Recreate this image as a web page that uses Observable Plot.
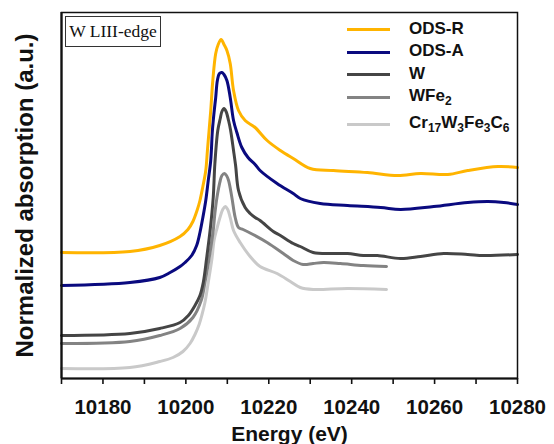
<!DOCTYPE html>
<html>
<head>
<meta charset="utf-8">
<script src="https://cdn.jsdelivr.net/npm/d3@7"></script>
<script src="https://cdn.jsdelivr.net/npm/@observablehq/plot@0.6"></script>
<style>
  html, body { margin: 0; padding: 0; background: #fff; }
  #wrap { position: relative; width: 554px; height: 444px; overflow: hidden; font-family: "Liberation Sans", Arial, sans-serif; }
  .leg { position: absolute; left: 347px; height: 0; }
  .leg .sw { position: absolute; left: 0; width: 43px; height: 3px; top: -1.5px; }
  .leg .tx { position: absolute; left: 62px; top: -11px; font-weight: bold; font-size: 17px; line-height: 20px; white-space: nowrap; color: #111; }
  .leg sub { font-size: 12px; vertical-align: -4px; line-height: 0; }
  #edge { position: absolute; left: 65px; top: 16px; width: 96px; height: 31px; border: 1px solid #333; box-sizing: border-box;
          font-family: "Liberation Serif", "Times New Roman", serif; font-size: 17.5px; line-height: 29px; text-align: center; color: #111; }
</style>
</head>
<body>
<div id="wrap"></div>
<script>
// Series names and colours
const seriesNames = ["Cr17W3Fe3C6", "WFe2", "W", "ODS-A", "ODS-R"];
const seriesColors = ["#c9c9c9", "#838383", "#454545", "#0a0a7f", "#ffb400"];

// Energies (eV) and normalized absorption (a.u.)
const odsR_E = [10170, 10186.5, 10193.7, 10198.6, 10200.5, 10201.7, 10202.7, 10203.4, 10204.1, 10204.8, 10205.2, 10205.6, 10206.0, 10206.5, 10207.2, 10207.8, 10208.5, 10209.2, 10209.9, 10210.7, 10211.5, 10212.7, 10214.3, 10216.7, 10219.6, 10222.8, 10225.9, 10230.0, 10235.6, 10243.8, 10251.1, 10256.6, 10263.2, 10268.0, 10275.3, 10280];
const odsR_A = [1.26, 1.27, 1.33, 1.42, 1.49, 1.57, 1.68, 1.78, 1.92, 2.08, 2.28, 2.48, 2.68, 2.98, 3.25, 3.34, 3.39, 3.34, 3.28, 3.15, 2.88, 2.68, 2.58, 2.51, 2.38, 2.28, 2.20, 2.10, 2.08, 2.06, 2.03, 2.05, 2.04, 2.08, 2.12, 2.11];

const odsA_E = [10170, 10186.5, 10193.7, 10196.2, 10198.6, 10199.8, 10201.4, 10202.6, 10203.4, 10204.1, 10204.8, 10205.4, 10206.0, 10206.4, 10206.8, 10207.2, 10207.6, 10208.1, 10208.7, 10209.2, 10209.9, 10210.7, 10211.5, 10212.3, 10213.5, 10215.0, 10216.7, 10217.9, 10222.0, 10225.9, 10227.6, 10232.4, 10239.0, 10247.0, 10251.8, 10259.8, 10268.0, 10272.9, 10276.7, 10280];
const odsA_A = [0.93, 0.96, 1.01, 1.06, 1.12, 1.16, 1.23, 1.33, 1.46, 1.61, 1.78, 1.98, 2.18, 2.48, 2.66, 2.81, 2.98, 3.05, 3.06, 3.04, 2.98, 2.81, 2.58, 2.46, 2.31, 2.21, 2.14, 2.08, 1.95, 1.85, 1.80, 1.75, 1.73, 1.71, 1.69, 1.72, 1.76, 1.77, 1.76, 1.74];

const w_E = [10170, 10186.5, 10193.7, 10198.6, 10200.6, 10202.2, 10203.4, 10204.2, 10205.0, 10205.9, 10206.6, 10207.0, 10207.7, 10208.3, 10208.7, 10209.2, 10209.7, 10210.3, 10210.8, 10211.5, 10212.0, 10212.7, 10214.3, 10215.5, 10216.7, 10217.9, 10221.1, 10222.8, 10225.9, 10227.6, 10230.7, 10235.6, 10239.0, 10242.8, 10246.2, 10251.8, 10256.6, 10262.2, 10268.0, 10271.9, 10280];
const w_A = [0.43, 0.45, 0.50, 0.56, 0.63, 0.73, 0.83, 0.96, 1.20, 1.50, 1.81, 2.15, 2.48, 2.60, 2.67, 2.70, 2.67, 2.58, 2.48, 2.28, 2.13, 1.88, 1.71, 1.65, 1.61, 1.58, 1.47, 1.43, 1.35, 1.32, 1.26, 1.25, 1.25, 1.23, 1.23, 1.20, 1.22, 1.25, 1.24, 1.23, 1.24];

const wfe2_E = [10170, 10186.5, 10193.7, 10198.6, 10201.7, 10203.7, 10204.6, 10205.6, 10206.6, 10207.0, 10207.5, 10208.3, 10208.7, 10209.3, 10209.8, 10210.3, 10211.1, 10211.9, 10212.7, 10213.8, 10216.2, 10219.6, 10223.5, 10225.9, 10228.3, 10230.7, 10233.2, 10237.3, 10242.8, 10248.4];
const wfe2_A = [0.35, 0.37, 0.43, 0.50, 0.61, 0.78, 0.96, 1.20, 1.48, 1.65, 1.81, 1.98, 2.03, 2.05, 2.03, 1.98, 1.81, 1.61, 1.51, 1.49, 1.44, 1.36, 1.25, 1.18, 1.14, 1.15, 1.16, 1.15, 1.13, 1.12];

const cr_E = [10170, 10186.5, 10193.7, 10196.9, 10199.3, 10201.0, 10202.2, 10203.2, 10203.9, 10204.6, 10205.4, 10206.3, 10206.8, 10207.5, 10208.3, 10208.9, 10209.5, 10210.1, 10210.7, 10211.5, 10213.1, 10215.5, 10217.9, 10222.0, 10225.2, 10227.6, 10230.7, 10239.0, 10248.4];
const cr_A = [0.10, 0.11, 0.17, 0.21, 0.27, 0.35, 0.44, 0.54, 0.64, 0.76, 0.96, 1.20, 1.38, 1.50, 1.62, 1.69, 1.72, 1.69, 1.61, 1.48, 1.36, 1.22, 1.12, 1.05, 0.97, 0.91, 0.89, 0.90, 0.89];

// Axis ticks
const xTicks = [10170, 10180, 10190, 10200, 10210, 10220, 10230, 10240, 10250, 10260, 10270, 10280];
const xTickLabels = [10180, 10200, 10220, 10240, 10260, 10280];

const seriesData = [
  [cr_E, cr_A], [wfe2_E, wfe2_A], [w_E, w_A], [odsA_E, odsA_A], [odsR_E, odsR_A]
];
const rows = [];
seriesData.forEach(([E, A], i) => E.forEach((e, j) => rows.push({series: seriesNames[i], energy: e, abs: A[j]})));

const chart = Plot.plot({
  width: 554,
  height: 444,
  marginLeft: 61,
  marginRight: 37,
  marginTop: 12,
  marginBottom: 66,
  style: {fontFamily: "'Liberation Sans', Arial, sans-serif", background: "white", color: "#111"},
  x: {domain: [10170, 10280]},
  y: {domain: [0, 3.66], axis: null},
  color: {domain: seriesNames, range: seriesColors},
  marks: [
    Plot.line(rows, {x: "energy", y: "abs", z: "series", stroke: "series", strokeWidth: 3, curve: "catmull-rom"}),
    Plot.frame({stroke: "#111", strokeWidth: 1.5}),
    Plot.ruleX([10170], {stroke: "#111", strokeWidth: 2.2}),
    Plot.ruleY([0], {stroke: "#111", strokeWidth: 2.2}),
    Plot.axisX({
      ticks: xTicks,
      tickSize: 6,
      tickPadding: 15,
      tickFormat: d => xTickLabels.includes(d) ? String(d) : "",
      fontSize: 20.5,
      fontWeight: "bold",
      strokeWidth: 1.6,
      label: null
    }),
    Plot.text(["Energy (eV)"], {frameAnchor: "bottom", lineAnchor: "top", dy: 48, fontSize: 21, fontWeight: "bold", fill: "#111"}),
    Plot.text(["Normalized absorption (a.u.)"], {frameAnchor: "left", textAnchor: "middle", rotate: -90, dx: -36, fontSize: 24, fontWeight: "bold", fill: "#111"})
  ]
});

const wrap = document.getElementById("wrap");
wrap.appendChild(chart);

// Label box
const edge = document.createElement("div");
edge.id = "edge";
edge.textContent = "W LIII-edge";
wrap.appendChild(edge);

// Legend (top right inside the plot)
const legendItems = [
  {html: "ODS-R", color: seriesColors[4], y: 29.5},
  {html: "ODS-A", color: seriesColors[3], y: 52},
  {html: "W", color: seriesColors[2], y: 74.5},
  {html: "WFe<sub>2</sub>", color: seriesColors[1], y: 97},
  {html: "Cr<sub>17</sub>W<sub>3</sub>Fe<sub>3</sub>C<sub>6</sub>", color: seriesColors[0], y: 124}
];
legendItems.forEach(it => {
  const d = document.createElement("div");
  d.className = "leg";
  d.style.top = it.y + "px";
  d.innerHTML = `<div class="sw" style="background:${it.color}"></div><div class="tx">${it.html}</div>`;
  wrap.appendChild(d);
});
</script>
</body>
</html>
